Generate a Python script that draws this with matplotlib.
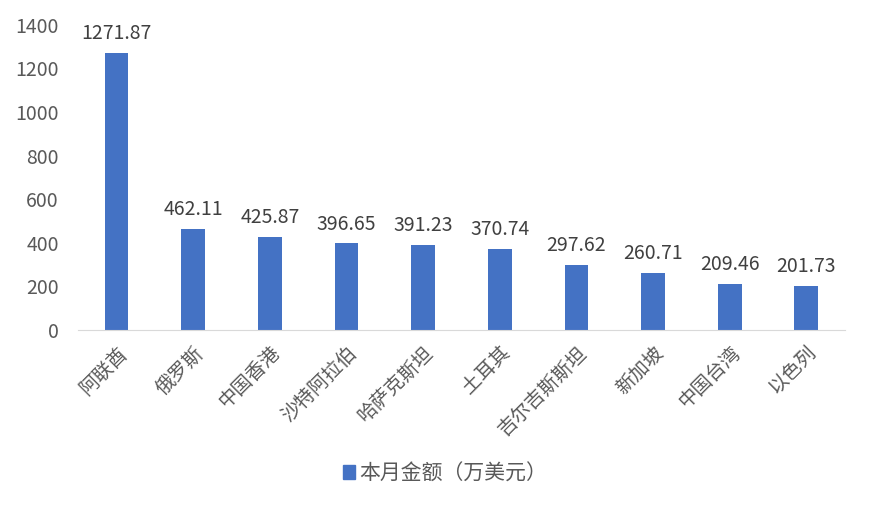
import matplotlib
matplotlib.use('Agg')
import matplotlib.pyplot as plt
from matplotlib.patches import Patch

plt.rcParams['font.family'] = ['Noto Sans CJK SC', 'DejaVu Sans']

countries = ['阿联酋', '俄罗斯', '中国香港', '沙特阿拉伯', '哈萨克斯坦',
             '土耳其', '吉尔吉斯斯坦', '新加坡', '中国台湾', '以色列']
amounts = [1271.87, 462.11, 425.87, 396.65, 391.23,
           370.74, 297.62, 260.71, 209.46, 201.73]
yticks = [0, 200, 400, 600, 800, 1000, 1200, 1400]
series_name = '本月金额（万美元）'

bar_color = '#4472C4'
text_color = '#595959'

fig = plt.figure(figsize=(8.69, 5.09), dpi=100)
ax = fig.add_axes([0.09, 0.352, 0.882, 0.599])

x = range(len(countries))
ax.bar(x, amounts, width=0.31, color=bar_color)
for i, v in zip(x, amounts):
    ax.annotate(f'{v:.2f}', (i, v), xytext=(0, 10), textcoords='offset points',
                ha='center', va='baseline', fontsize=14, color='#404040')

ax.set_xlim(-0.5, len(countries) - 0.5)
ax.set_ylim(0, 1400)
ax.set_yticks(yticks)
ax.set_yticklabels([str(t) for t in yticks], fontsize=14, color=text_color)
ax.set_xticks(list(x))
ax.set_xticklabels(countries, rotation=45, ha='right', rotation_mode='anchor',
                   fontsize=14, color=text_color)
ax.tick_params(axis='both', length=0)
ax.tick_params(axis='y', pad=14)
ax.tick_params(axis='x', pad=9)

for side in ['top', 'right', 'left']:
    ax.spines[side].set_visible(False)
ax.spines['bottom'].set_color('#D9D9D9')

handle = Patch(color=bar_color)
fig.legend([handle], [series_name], loc='center', bbox_to_anchor=(0.512, 0.07),
           frameon=False, fontsize=15, handlelength=0.6, handleheight=0.6,
           handletextpad=0.2, labelcolor=text_color)

fig.savefig('out.png', dpi=100)
